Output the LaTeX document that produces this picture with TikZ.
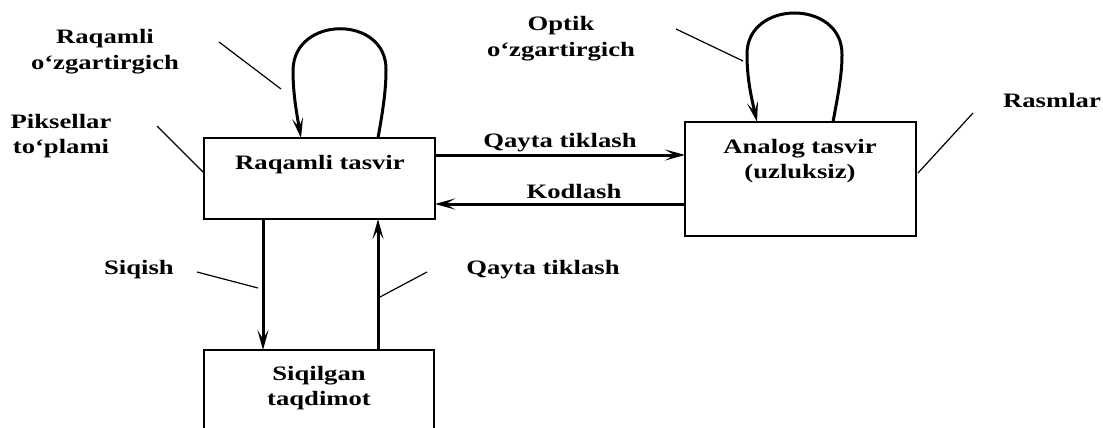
\documentclass[tikz,border=0pt]{standalone}
\usepackage{fontspec}
\setmainfont{Liberation Serif}[FakeStretch=1.3]
\usetikzlibrary{arrows.meta,calc}
\begin{document}
\begin{tikzpicture}[x=1pt,y=-1pt,
  box/.style={draw,line width=1.3pt,inner sep=0pt,outer sep=0pt,minimum width=231pt},
  txt/.style={inner sep=0pt,outer sep=0pt,anchor=base,align=center,
    font=\fontsize{20.5}{26}\selectfont\bfseries},
  flow/.style={line width=3pt,-{Stealth[length=20pt,width=11pt,inset=9pt]}},
  pointer/.style={line width=1.2pt}]
\useasboundingbox (0,0) rectangle (1103,428);
% boxes
\node[box,minimum height=81pt] (A) at (319.5,178.5) {};
\node[box,minimum height=114pt] (B) at (800.5,179) {};
\node[box,minimum width=230pt,minimum height=84pt] (C) at (319,392) {};
% box texts
\node[txt] (tA) at (320,169) {Raqamli tasvir};
\node[txt,font=\fontsize{20.5}{25}\selectfont\bfseries] (tB) at (800,178) {Analog tasvir\\(uzluksiz)};
\node[txt,font=\fontsize{20.5}{25}\selectfont\bfseries] (tC) at (319,405) {Siqilgan\\taqdimot};
% labels
\node[txt] (lRo) at (105,70) {Raqamli\\o‘zgartirgich};
\node[txt,font=\fontsize{20.5}{25}\selectfont\bfseries] (lPt) at (61,153) {Piksellar\\to‘plami};
\node[txt,font=\fontsize{20.5}{27}\selectfont\bfseries] (lOo) at (561,57) {Optik\\o‘zgartirgich};
\node[txt] (lRa) at (1052,107) {Rasmlar};
\node[txt] (lQ1) at (560,147) {Qayta tiklash};
\node[txt] (lKo) at (574,198) {Kodlash};
\node[txt] (lSi) at (139,274) {Siqish};
\node[txt] (lQ2) at (543,274) {Qayta tiklash};
% horizontal arrows
\draw[flow] ($(A.north east)+(0,17)$) -- ($(B.north west)+(0,33)$);
\draw[flow] ($(B.north west)+(0,82)$) -- ($(A.north east)+(0,66)$);
% vertical arrows
\draw[flow] ($(A.south west)+(59,0)$) -- ($(C.north west)+(59,0)$);
\draw[flow] ($(C.north west)+(174,0)$) -- ($(A.south west)+(174,0)$);
% loops
\draw[flow] ($(A.north west)+(174,0)$) .. controls (383,110) and (386,90) .. (386,70)
  .. controls (387,15) and (294,15) .. (293,70) .. controls (293,95) and (297,115) .. ($(A.north west)+(97,0)$);
\draw[flow] ($(B.north west)+(148,0)$) .. controls (838,95) and (842,75) .. (842,55)
  .. controls (843,-1) and (746,-1) .. (747,55) .. controls (747,80) and (752,100) .. ($(B.north west)+(72,0)$);
% pointer lines
\coordinate (p1a) at (219,42); \coordinate (p1b) at (281,89);
\coordinate (p2a) at (157,126); \coordinate (p2b) at (204,173);
\coordinate (p3a) at (676,29); \coordinate (p3b) at (743,61);
\coordinate (p4a) at (973,113); \coordinate (p4b) at (918,173);
\coordinate (p5a) at (197,272); \coordinate (p5b) at (258,288);
\coordinate (p6a) at (427,272); \coordinate (p6b) at (380,297);
\draw[pointer] (p1a) -- (p1b);
\draw[pointer] (p2a) -- (p2b);
\draw[pointer] (p3a) -- (p3b);
\draw[pointer] (p4a) -- (p4b);
\draw[pointer] (p5a) -- (p5b);
\draw[pointer] (p6a) -- (p6b);
\end{tikzpicture}
\end{document}
